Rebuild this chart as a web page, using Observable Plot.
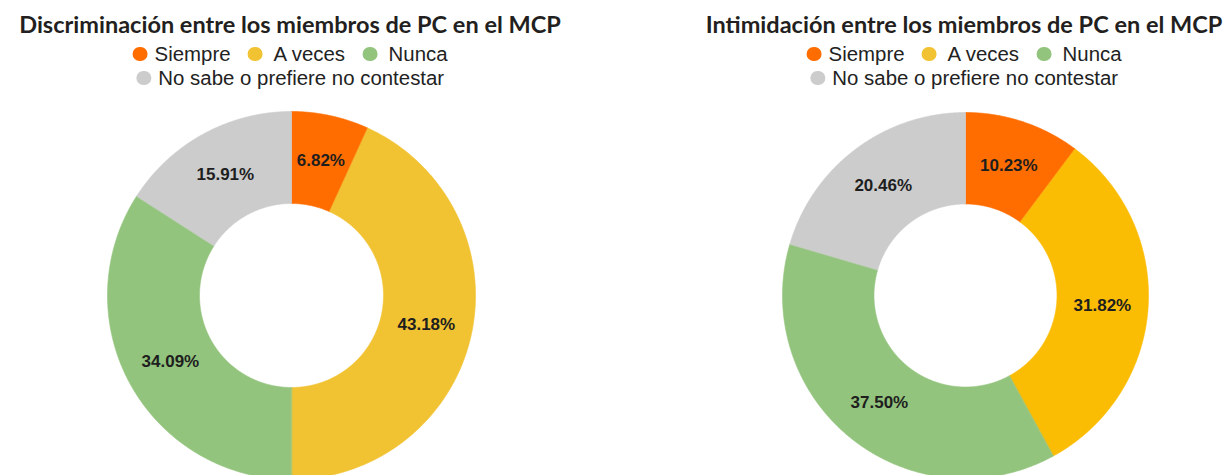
<!DOCTYPE html>
<html>
<head>
<meta charset="utf-8">
<script src="https://cdn.jsdelivr.net/npm/d3@7"></script>
<script src="https://cdn.jsdelivr.net/npm/@observablehq/plot@0.6"></script>
<style>
  html, body { margin: 0; padding: 0; background: #fff; overflow: hidden; }
  #root { position: relative; width: 1226px; height: 475px; }
  .title { position: absolute; top: 8.5px; font-family: Lato, "Open Sans", sans-serif; font-weight: 700; font-size: 23.5px; line-height: 30px; color: #231f20; white-space: nowrap; transform: translateX(-50%); }
  .legline { position: absolute; font-family: "Liberation Sans", Arial, sans-serif; font-size: 20px; line-height: 24px; color: #222; white-space: nowrap; transform: translateX(-50%); display: flex; align-items: center; }
  .dot { display: inline-block; width: 14.5px; height: 14.5px; border-radius: 50%; margin-right: 11px; flex: none; }
  .item:first-child .dot { margin-right: 7px; }
  .item { display: inline-flex; align-items: center; margin-right: 18px; }
  .item:last-child { margin-right: 0; }
  .txtbox { display: inline-block; overflow: visible; }
  .txt { display: inline-block; transform-origin: 0 50%; }
  #charts { position: absolute; top: 100px; left: 0; display: flex; }
</style>
</head>
<body>
<div id="root">
  <div id="charts"></div>
</div>
<script>
const categories = ["Siempre", "A veces", "Nunca", "No sabe o prefiere no contestar"];
const discriminacion = [6.82, 43.18, 34.09, 15.91];
const intimidacion = [10.23, 31.82, 37.50, 20.46];
const titles = ["Discriminación entre los miembros de PC en el MCP", "Intimidación entre los miembros de PC en el MCP"];
const legendColors = ["#ff6d01", "#f1c232", "#93c47d", "#cccccc"];
const colorsLeft = ["#ff6d01", "#f1c232", "#93c47d", "#cccccc"];
const colorsRight = ["#ff6d01", "#fbbc04", "#93c47d", "#cccccc"];
const legendRows = [[0, 1, 2], [3]];

const root = document.getElementById("root");
const charts = document.getElementById("charts");
const PW = 613, PH = 375;
const panels = [
  {title: titles[0], values: discriminacion, colors: colorsLeft, cx: 291, cy: 195, R: 184, r: 92, center: 290},
  {title: titles[1], values: intimidacion, colors: colorsRight, cx: 352, cy: 195, R: 183, r: 91.5, center: 964}
];
const STRETCH = 1.02;

function addHeader(p) {
  const t = document.createElement("div");
  t.className = "title";
  t.style.left = p.center + "px";
  t.textContent = p.title;
  root.appendChild(t);
  legendRows.forEach((row, ri) => {
    const line = document.createElement("div");
    line.className = "legline";
    line.style.left = p.center + "px";
    line.style.top = (42.1 + ri * 24) + "px";
    row.forEach(ci => {
      const item = document.createElement("span");
      item.className = "item";
      const dot = document.createElement("span");
      dot.className = "dot";
      dot.style.background = legendColors[ci];
      const box = document.createElement("span");
      box.className = "txtbox";
      const txt = document.createElement("span");
      txt.className = "txt";
      txt.textContent = categories[ci];
      box.appendChild(txt);
      item.appendChild(dot);
      item.appendChild(box);
      line.appendChild(item);
    });
    root.appendChild(line);
    line.querySelectorAll(".txtbox").forEach(box => {
      const txt = box.firstChild;
      const w = txt.getBoundingClientRect().width;
      box.style.width = (w * STRETCH) + "px";
      txt.style.transform = `scaleX(${STRETCH})`;
    });
  });
}

function donut(p) {
  const total = d3.sum(p.values);
  const pts = [];
  const labels = [];
  let acc = 0;
  p.values.forEach((v, i) => {
    const a0 = acc / total * 2 * Math.PI;
    acc += v;
    const a1 = acc / total * 2 * Math.PI;
    const n = Math.max(2, Math.ceil((a1 - a0) / (Math.PI / 360)));
    for (let k = 0; k <= n; k++) {
      const a = a0 + (a1 - a0) * k / n;
      pts.push({cat: categories[i], x: p.R * Math.sin(a), y: -p.R * Math.cos(a)});
    }
    for (let k = n; k >= 0; k--) {
      const a = a0 + (a1 - a0) * k / n;
      pts.push({cat: categories[i], x: p.r * Math.sin(a), y: -p.r * Math.cos(a)});
    }
    const am = (a0 + a1) / 2, rm = (p.R + p.r) / 2;
    labels.push({x: rm * Math.sin(am), y: -rm * Math.cos(am), text: v.toFixed(2) + "%"});
  });
  return Plot.plot({
    width: PW, height: PH, margin: 0,
    style: {background: "transparent", overflow: "visible"},
    x: {domain: [-p.cx, PW - p.cx], range: [0, PW], axis: null},
    y: {domain: [-p.cy, PH - p.cy], range: [0, PH], axis: null},
    color: {domain: categories, range: p.colors},
    marks: [
      Plot.line(pts, {x: "x", y: "y", z: "cat", fill: "cat", stroke: "cat", strokeWidth: 0.6, curve: "linear-closed"}),
      Plot.text(labels, {x: "x", y: "y", text: "text", fontSize: 17, fontWeight: "bold", fill: "#1e1e1e", fontFamily: "Liberation Sans, Arial, sans-serif"})
    ]
  });
}

panels.forEach(p => {
  addHeader(p);
  charts.appendChild(donut(p));
});
</script>
</body>
</html>
